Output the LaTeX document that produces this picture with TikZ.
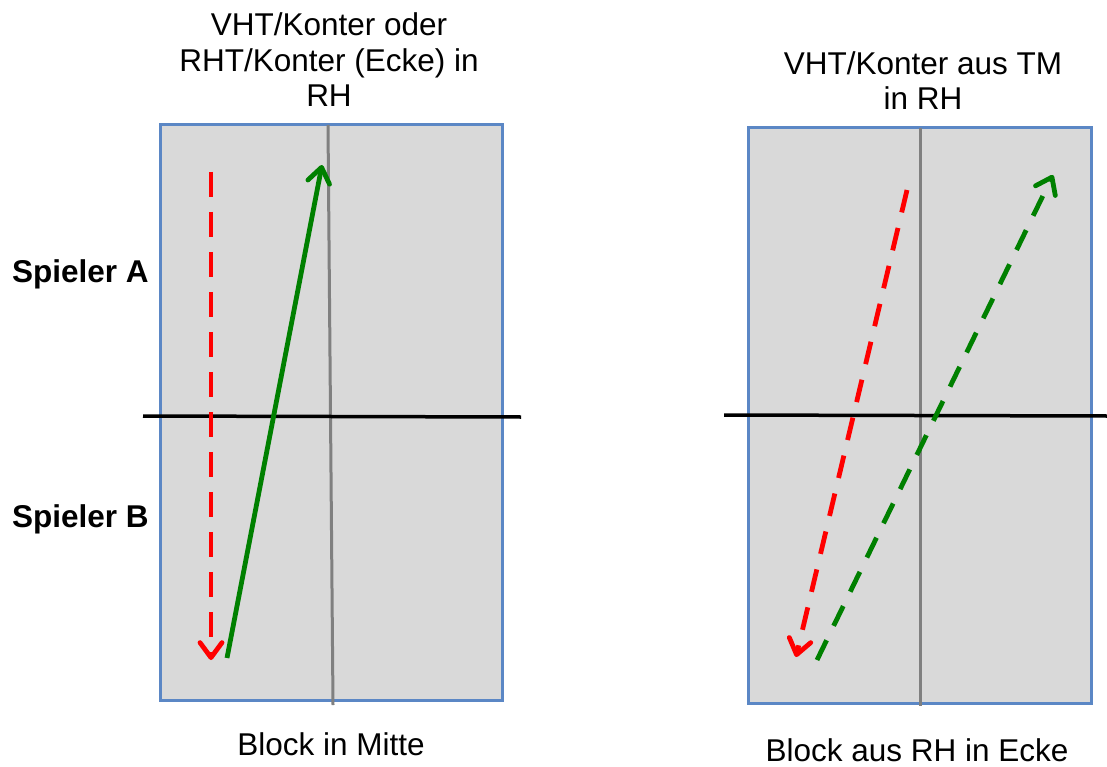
\documentclass[tikz,border=0pt]{standalone}
\usepackage{fontspec}
\setmainfont{Liberation Sans}
\usetikzlibrary{arrows.meta}
\definecolor{tableblue}{RGB}{91,135,197}
\definecolor{tablegray}{RGB}{217,217,217}
\definecolor{centergray}{RGB}{128,128,128}
\definecolor{shotgreen}{RGB}{0,128,0}
\definecolor{shotred}{RGB}{255,0,0}
\tikzset{
  tablebox/.style={draw=tableblue, fill=tablegray, line width=3pt},
  centerline/.style={draw=centergray, line width=3pt},
  netline/.style={draw=black, line width=3.5pt},
  lbl/.style={font=\fontsize{31.5}{35.5}\selectfont, anchor=base, inner sep=0pt, align=center},
  lblbold/.style={font=\fontsize{31.5}{36}\selectfont\bfseries, anchor=base west, inner sep=0pt},
  shot/.style={line width=4.8pt, -{Straight Barb[round,length=15pt,width=22pt]}},
  dashedshot/.style={shot, dash pattern=on 25pt off 15pt},
}
\begin{document}
\begin{tikzpicture}[x=1pt,y=-1pt]
\useasboundingbox (0,0) rectangle (1107,767);
% tables
\draw[tablebox] (160,125) rectangle (502,700);
\draw[tablebox] (748,128) rectangle (1091,703);
% center lines
\coordinate (lct) at (328,125); \coordinate (lcb) at (333,705);
\coordinate (rct) at (920,128); \coordinate (rcb) at (920,706);
\draw[centerline] (lct) -- (lcb);
\draw[centerline] (rct) -- (rcb);
% nets
\coordinate (lnl) at (143,416); \coordinate (lnr) at (521,417);
\coordinate (rnl) at (724,415); \coordinate (rnr) at (1107,416);
\draw[netline] (lnl) -- (lnr);
\draw[netline] (rnl) -- (rnr);
% shots left
\coordinate (lrs) at (211,172); \coordinate (lre) at (211,660);
\draw[dashedshot, shotred] (lrs) -- (lre);
\coordinate (lgs) at (227,658); \coordinate (lge) at (322,165);
\draw[shot, shotgreen] (lgs) -- (lge);
% shots right
\coordinate (rrs) at (907,190); \coordinate (rre) at (796,657);
\draw[dashedshot, shotred, dash pattern=on 23pt off 16pt] (rrs) -- (rre);
\coordinate (rgs) at (817,660); \coordinate (rge) at (1053,175);
\draw[dashedshot, shotgreen, dash pattern=on 22pt off 16pt] (rgs) -- (rge);
% labels
\node[lbl] (t1) at (329,107) {VHT/Konter oder\\RHT/Konter (Ecke) in\\RH};
\node[lbl] (t2) at (923,110) {VHT/Konter aus TM\\in RH};
\node[lblbold] (pa) at (12,282) {Spieler A};
\node[lblbold] (pb) at (12,527) {Spieler B};
\node[lbl] (b1) at (331,755) {Block in Mitte};
\node[lbl] (b2) at (917,761) {Block aus RH in Ecke};
\end{tikzpicture}
\end{document}
